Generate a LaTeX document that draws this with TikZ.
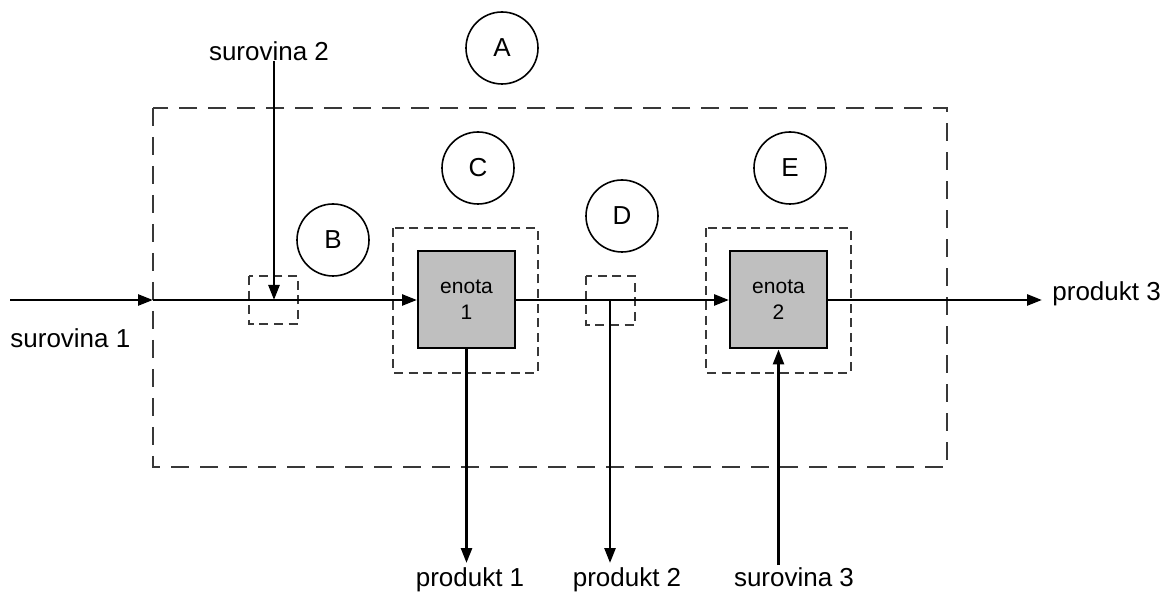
\documentclass[tikz,border=0pt]{standalone}
\usepackage{fontspec}
\setmainfont{Liberation Sans}
\usetikzlibrary{arrows.meta}
\begin{document}
\begin{tikzpicture}[x=0.5pt,y=-0.5pt,
  flow/.style={line width=1.3pt,-{Triangle[length=7.5pt,width=5.5pt]}},
  bigbound/.style={draw=black!78,line width=1.2pt,dash pattern=on 9pt off 5.5pt},
  smallbound/.style={draw=black!78,line width=1.2pt,dash pattern=on 4.5pt off 2.8pt},
  unit/.style={draw,line width=1pt,fill=black!25,minimum width=48.5pt,minimum height=48.5pt,
    inner sep=0pt,align=center,font=\fontsize{10.5pt}{12pt}\selectfont},
  tag/.style={draw,circle,line width=0.8pt,minimum size=36pt,inner sep=0pt,
    font=\fontsize{13pt}{15pt}\selectfont},
  lbl/.style={font=\fontsize{13pt}{15pt}\selectfont,inner sep=0pt}]
\useasboundingbox (0,0) rectangle (1166,592);

% system boundaries
\draw[bigbound] (153,108) rectangle (947,467);
\draw[smallbound] (249,276) rectangle (298,324);
\draw[smallbound] (393,228) rectangle (538,373);
\draw[smallbound] (586,276) rectangle (635,325);
\draw[smallbound] (706,228) rectangle (851,373);

% process units
\node[unit] (e1) at (466.5,300) {enota\\[1pt]1};
\node[unit] (e2) at (778.5,300) {enota\\[1pt]2};

% region tags
\node[tag] (A) at (502,48) {A};
\node[tag] (B) at (333,240) {B};
\node[tag] (C) at (478,168) {C};
\node[tag] (D) at (622,216) {D};
\node[tag] (E) at (790,168) {E};

% labels
\node[lbl,anchor=base west] (l1) at (10,348) {surovina 1};
\node[lbl,anchor=base] (l2) at (269,61) {surovina 2};
\node[lbl,anchor=base west] (p3) at (1052,301) {produkt 3};
\node[lbl,anchor=base] (p1) at (470,586) {produkt 1};
\node[lbl,anchor=base] (p2) at (627,586) {produkt 2};
\node[lbl,anchor=base] (l3) at (794,586) {surovina 3};

% stream points
\coordinate (s1) at (10,300);
\coordinate (in) at (153,300);
\coordinate (mix) at (274,300);
\coordinate (s2) at (274,61);
\coordinate (split) at (610,300);
\coordinate (out3) at (1042,300);
\coordinate (out1) at (466.5,563);
\coordinate (out2) at (610,563);
\coordinate (s3) at (778.5,565);

% streams
\draw[flow] (s1) -- (in);
\draw[flow] (in) -- (e1.west);
\draw[flow] (s2) -- (mix);
\draw[flow] (e1.east) -- (e2.west);
\draw[flow] (e2.east) -- (out3);
\draw[flow] (e1.south) -- (out1);
\draw[flow] (split) -- (out2);
\draw[flow] (s3) -- (e2.south);
\end{tikzpicture}
\end{document}
